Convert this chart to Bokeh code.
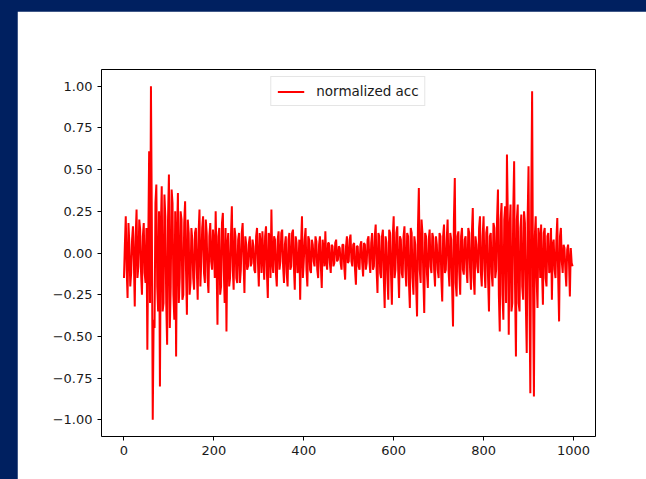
import numpy as np
from bokeh.plotting import figure
from bokeh.layouts import column
from bokeh.models import ColumnDataSource, Range1d, FixedTicker, Legend, LegendItem
from bokeh.embed import file_html
from bokeh.resources import INLINE

# ---- data ----
# samples at even positions 0, 4, 8, ... 996
acc_even = [
    -0.15, 0.22, -0.27, 0.05, -0.12, 0.16, -0.32, 0.26, -0.08, 0.14,
    -0.25, 0.18, -0.18, -0.58, 0.61, 1.00, -1.00, -0.45, 0.41, -0.35,
    -0.80, 0.40, -0.30, 0.22, -0.55, 0.47, -0.20, 0.30, -0.40, -0.62,
    0.36, -0.15, 0.20, -0.25, 0.31, -0.37, 0.12, -0.18, 0.08, -0.22,
    0.15, -0.28, 0.26, -0.05, 0.22, -0.18, 0.12, -0.24, 0.18, -0.10,
    0.06, 0.25, -0.43, 0.15, -0.20, 0.24, -0.30, -0.47, 0.12, -0.15,
    0.28, -0.22, 0.10, -0.18, 0.12, -0.10, 0.18, -0.24, 0.05, -0.08,
    0.10, -0.06, 0.04, -0.12, 0.15, -0.20, 0.06, 0.13, -0.16, 0.16,
    -0.27, 0.10, 0.26, -0.12, 0.08, -0.20, 0.13, -0.05, 0.14, -0.18,
    0.10, -0.20, 0.12, -0.08, 0.14, -0.22, 0.06, -0.10, -0.28, 0.22,
    -0.05, 0.15, -0.20, 0.08, -0.12, 0.05, -0.08, 0.07, -0.15, 0.10,
    -0.21, 0.02, 0.13, -0.10, 0.06, -0.12, 0.04, -0.06, 0.08, -0.04,
    0.03, -0.10, 0.05, -0.16, 0.10, -0.05, 0.11, -0.08, 0.06, -0.19,
    0.04, -0.10, 0.07, -0.14, 0.05, -0.06, 0.10, -0.12, 0.12, -0.08,
    0.17, -0.24, 0.10, -0.15, 0.14, -0.33, 0.06, -0.28, 0.12, -0.31,
    0.22, -0.10, 0.16, -0.27, 0.08, -0.15, 0.16, -0.20, 0.10, -0.33,
    0.12, -0.25, 0.05, -0.38, 0.39, -0.18, 0.12, -0.36, 0.10, -0.21,
    0.14, -0.12, 0.09, -0.20, 0.05, -0.15, 0.10, -0.29, 0.17, -0.10,
    0.20, -0.20, 0.08, -0.44, 0.45, -0.26, 0.13, -0.25, 0.15, -0.13,
    0.10, -0.18, 0.12, -0.22, 0.27, -0.25, 0.05, -0.12, 0.22, -0.20,
    0.22, -0.21, 0.16, -0.35, 0.12, -0.20, 0.15, -0.10, 0.38, -0.47,
    0.30, -0.40, 0.28, 0.59, -0.49, 0.29, -0.30, 0.55, -0.62, 0.29,
    -0.35, 0.23, -0.28, 0.18, -0.60, 0.52, -0.84, 0.97, -0.86, 0.22,
    -0.33, 0.10, 0.17, -0.31, 0.15, -0.20, 0.12, -0.10, -0.28, 0.08,
    -0.15, 0.21, -0.41, 0.15, -0.12, 0.03, -0.20, 0.05, -0.26, -0.06,
]
# samples in between, at positions 2, 6, 10, ... 998
acc_odd = [
    0.05, -0.10, 0.18, -0.20, 0.08, -0.05, 0.10, -0.15, 0.20, -0.12,
    0.10, -0.12, 0.15, 0.05, -0.30, 0.20, -0.40, 0.30, -0.20, 0.25,
    0.15, -0.35, 0.35, -0.30, 0.20, -0.45, 0.38, -0.25, 0.25, 0.10,
    -0.30, 0.25, -0.28, 0.18, -0.10, 0.20, -0.25, 0.15, -0.15, 0.12,
    -0.10, 0.12, -0.20, 0.15, -0.12, 0.20, -0.15, 0.10, -0.05, 0.14,
    -0.15, -0.05, 0.10, -0.25, 0.18, -0.10, 0.15, 0.05, -0.20, 0.10,
    -0.10, 0.15, -0.15, 0.08, -0.18, 0.12, -0.05, 0.10, -0.10, 0.06,
    -0.08, 0.08, -0.10, 0.10, -0.05, 0.12, -0.12, -0.02, 0.10, -0.12,
    0.12, -0.15, -0.05, 0.10, -0.12, 0.08, -0.10, 0.12, -0.08, 0.05,
    -0.12, 0.08, -0.10, 0.12, -0.08, 0.10, -0.12, 0.08, 0.05, -0.15,
    0.08, -0.10, 0.10, -0.10, 0.08, -0.05, 0.10, -0.10, 0.05, -0.08,
    0.08, -0.08, -0.05, 0.06, -0.06, 0.05, -0.08, 0.06, -0.05, 0.04,
    -0.06, 0.05, -0.08, 0.04, -0.06, 0.08, -0.05, 0.05, -0.10, 0.04,
    -0.08, 0.05, -0.06, 0.06, -0.10, 0.08, -0.05, 0.06, -0.10, 0.10,
    -0.10, 0.12, -0.12, 0.10, -0.15, 0.10, -0.15, 0.14, -0.12, 0.10,
    -0.15, 0.12, -0.10, 0.10, -0.12, 0.10, -0.10, 0.12, -0.18, 0.15,
    -0.15, 0.10, -0.20, 0.15, -0.10, 0.20, -0.15, 0.12, -0.12, 0.08,
    -0.08, 0.12, -0.10, 0.10, -0.10, 0.12, -0.15, 0.10, -0.12, 0.08,
    -0.10, 0.12, -0.20, 0.20, -0.18, 0.10, -0.12, 0.10, -0.10, 0.08,
    -0.10, 0.15, -0.10, 0.12, -0.15, 0.10, -0.08, 0.15, -0.12, 0.10,
    -0.10, 0.12, -0.15, 0.10, -0.12, 0.18, -0.15, 0.20, -0.25, 0.20,
    -0.25, 0.20, -0.30, 0.20, 0.15, -0.35, 0.25, -0.20, 0.20, -0.30,
    0.15, -0.20, 0.25, -0.30, 0.20, -0.25, 0.30, -0.20, 0.10, -0.15,
    0.15, -0.15, -0.10, 0.12, -0.15, 0.10, -0.12, 0.15, 0.05, -0.10,
    0.08, -0.15, 0.10, -0.05, 0.05, -0.10, 0.02, -0.05, 0.03, -0.08,
]
pos_even = list(range(0, 4 * len(acc_even), 4))
pos_odd = list(range(2, 4 * len(acc_odd), 4))

x_ticks = [0, 200, 400, 600, 800, 1000]
y_ticks = [-1.0, -0.75, -0.5, -0.25, 0.0, 0.25, 0.5, 0.75, 1.0]
y_tick_labels = ["\u22121.00", "\u22120.75", "\u22120.50", "\u22120.25", "0.00",
                 "0.25", "0.50", "0.75", "1.00"]
legend_label = "normalized acc"

FONT = "DejaVu Sans"

merged = sorted(zip(pos_even + pos_odd, acc_even + acc_odd))
src = ColumnDataSource(dict(x=[m[0] for m in merged], y=[m[1] for m in merged]))

p = figure(
    output_backend="svg", toolbar_location=None,
    frame_width=494, frame_height=367,
    min_border_left=84, min_border_right=51, min_border_top=58, min_border_bottom=43,
    x_range=Range1d(-50, 1049), y_range=Range1d(-1.1, 1.1),
)
p.border_fill_color = "white"
p.background_fill_color = "white"
p.outline_line_color = "black"
p.outline_line_width = 1
p.xgrid.visible = False
p.ygrid.visible = False

r = p.line("x", "y", source=src, line_color="red", line_width=2)

p.xaxis.ticker = FixedTicker(ticks=x_ticks)
p.yaxis.ticker = FixedTicker(ticks=y_ticks)
p.yaxis.major_label_overrides = {t: l for t, l in zip(y_ticks, y_tick_labels)}
for ax in (p.xaxis[0], p.yaxis[0]):
    ax.axis_line_color = None
    ax.major_tick_in = 0
    ax.major_tick_out = 4
    ax.major_tick_line_color = "black"
    ax.minor_tick_line_color = None
    ax.major_label_text_font = FONT
    ax.major_label_text_font_size = "13px"
    ax.major_label_text_color = "#1a1a1a"
    ax.major_label_standoff = 5

legend = Legend(items=[LegendItem(label=legend_label, renderers=[r])],
                location="top_center")
legend.margin = 7
legend.padding = 6
legend.spacing = 0
legend.glyph_width = 27
legend.glyph_height = 13
legend.label_height = 13
legend.label_standoff = 12
legend.label_text_font = FONT
legend.label_text_font_size = "13.5px"
legend.label_text_color = "#1a1a1a"
legend.border_line_color = "#cccccc"
legend.border_line_width = 1
legend.background_fill_color = "white"
legend.background_fill_alpha = 0.8
p.add_layout(legend)

layout = column(p, width=646, height=479,
                styles={"background-color": "#002060",
                        "padding-left": "17px", "padding-top": "11px",
                        "box-sizing": "border-box"})

open("out.html", "w").write(file_html(layout, INLINE))
